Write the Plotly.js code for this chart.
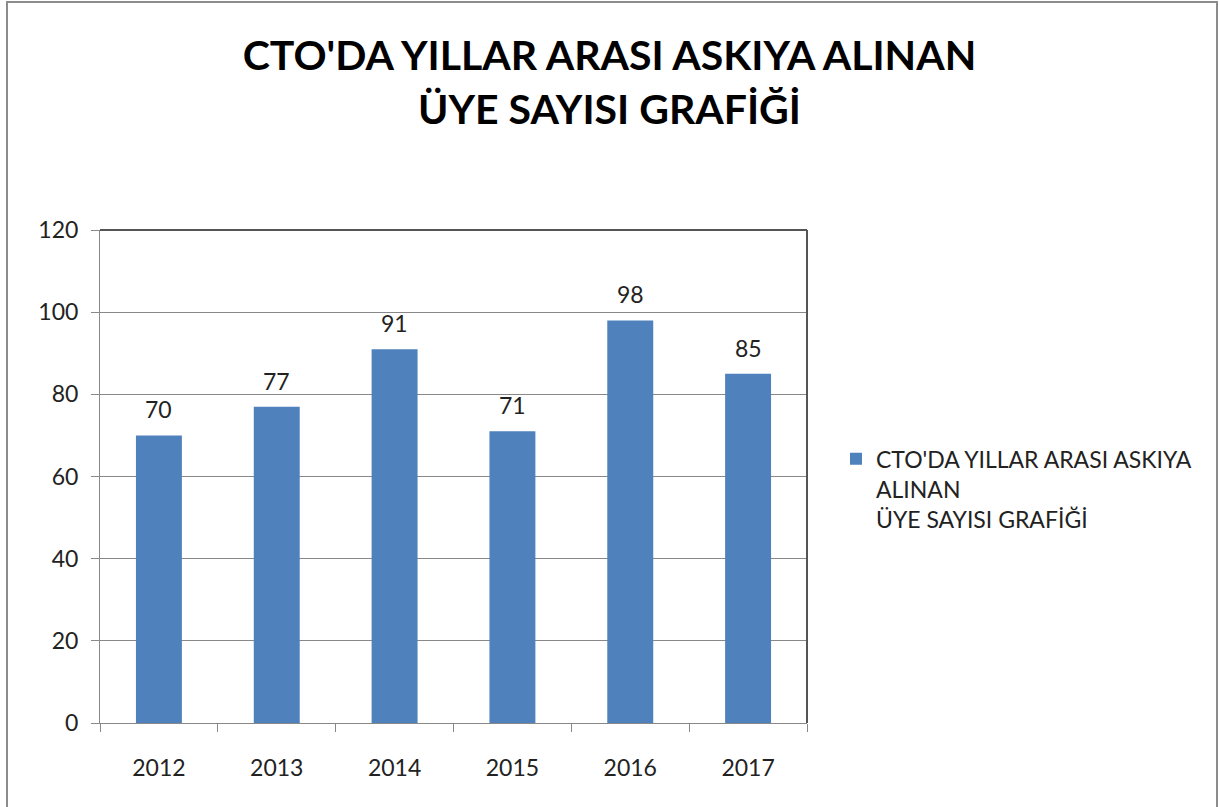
<!DOCTYPE html>
<html><head><meta charset="utf-8">
<script src="https://cdn.plot.ly/plotly-3.0.1.min.js"></script>
<style>
html,body{margin:0;padding:0;background:#fff;overflow:hidden;}
#chart{position:absolute;left:0;top:0;width:1219px;height:807px;}
#frame{position:absolute;left:6px;top:1px;width:1208px;height:820px;border:2px solid #8c8c8c;pointer-events:none;}
</style></head>
<body>
<div id="chart"></div>
<div id="frame"></div>
<script>
const years = ['2012','2013','2014','2015','2016','2017'];
const counts = [70, 77, 91, 71, 98, 85];
const titleLines = ["CTO'DA YILLAR ARASI ASKIYA ALINAN", "ÜYE SAYISI GRAFİĞİ"];
const legendLines = ["CTO'DA YILLAR ARASI ASKIYA", "ALINAN", "ÜYE SAYISI GRAFİĞİ"];
const yTicks = [0, 20, 40, 60, 80, 100, 120];

const font = "Lato, 'Open Sans', sans-serif";
const fs = 23;

const trace = {
  type: 'bar',
  x: years,
  y: counts,
  name: legendLines.join('<br>'),
  marker: {color: '#4f81bd'},
  showlegend: true,
  hoverinfo: 'x+y'
};

// category index positions on the category axis
const labels = years.map((yr, i) => ({
  x: i, y: counts[i], xref: 'x', yref: 'y',
  text: String(counts[i]), showarrow: false,
  yanchor: 'bottom', yshift: 10,
  font: {family: font, size: fs, color: '#222'}
}));

const layout = {
  width: 1219, height: 807,
  margin: {l: 100, r: 412, t: 230, b: 84},
  paper_bgcolor: '#fff', plot_bgcolor: '#fff',
  font: {family: font, size: fs, color: '#222'},
  title: {
    text: '<b>' + titleLines.join('<br>') + '</b>',
    font: {family: font, size: 41, color: '#000'},
    x: 0.5, xref: 'container', xanchor: 'center',
    y: 0.913, yref: 'container', yanchor: 'middle'
  },
  bargap: 0.61,
  xaxis: {
    type: 'category',
    categoryorder: 'array', categoryarray: years,
    range: [-0.5, years.length - 0.5], autorange: false,
    showline: true, linecolor: '#888', linewidth: 1,
    ticks: 'outside', tickson: 'boundaries', ticklen: 8, tickcolor: '#888',
    ticklabelstandoff: 24, tickangle: 0,
    showgrid: false, zeroline: false,
    tickfont: {family: font, size: fs, color: '#222'}
  },
  yaxis: {
    range: [0, 120], autorange: false, tickvals: yTicks,
    showline: true, linecolor: '#888', linewidth: 1,
    ticks: 'outside', ticklen: 8, tickcolor: '#888',
    ticklabelstandoff: 8,
    showgrid: true, gridcolor: '#888', gridwidth: 1,
    zeroline: false,
    tickfont: {family: font, size: fs, color: '#222'}
  },
  annotations: labels,
  shapes: [
    {type: 'line', xref: 'paper', yref: 'paper', x0: 0, x1: 1, y0: 1, y1: 1, line: {color: '#555', width: 2}},
    {type: 'line', xref: 'paper', yref: 'paper', x0: 1, x1: 1, y0: 0, y1: 1, line: {color: '#555', width: 2}}
  ],
  legend: {
    x: 1.041, xanchor: 'left', y: 0.475, yanchor: 'middle',
    valign: 'top',
    font: {family: font, size: fs, color: '#222'},
    bgcolor: 'rgba(0,0,0,0)', itemwidth: 30
  }
};

Plotly.newPlot('chart', [trace], layout, {displayModeBar: false, staticPlot: true});
</script>
</body></html>
